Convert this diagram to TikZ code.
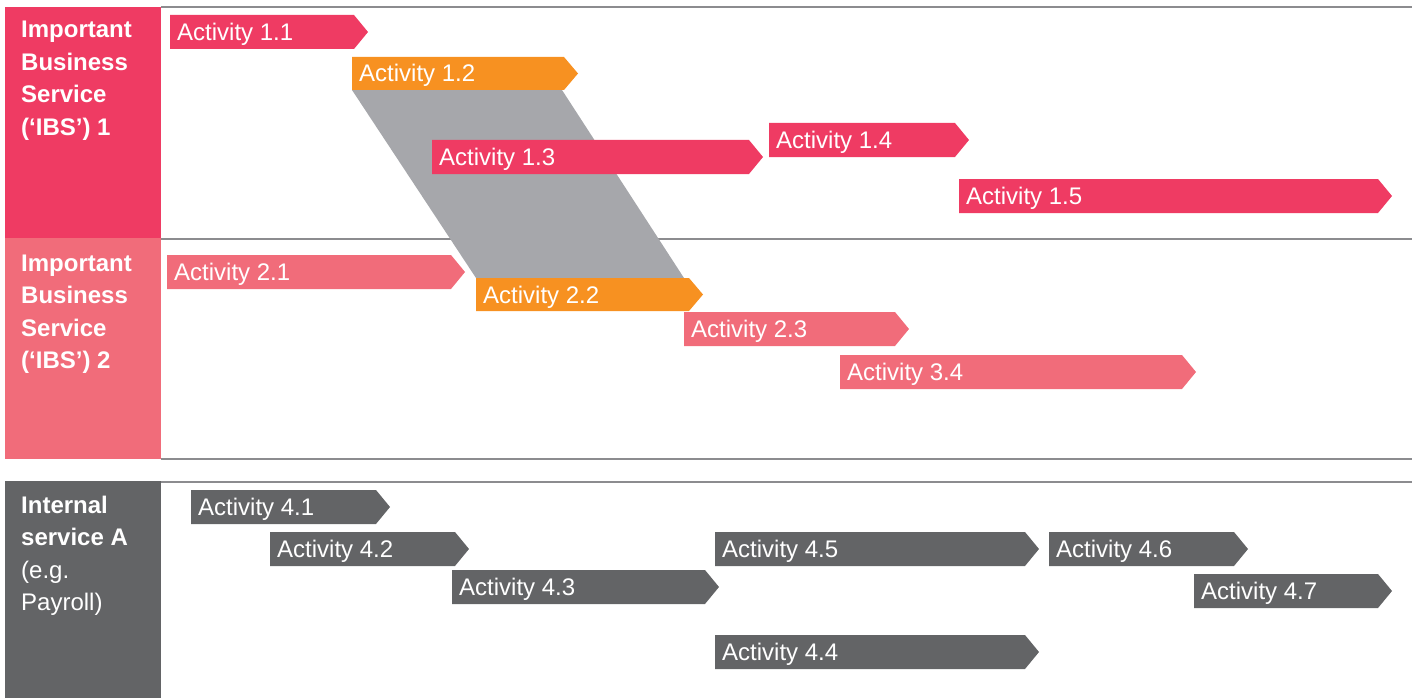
\documentclass[tikz,border=0pt]{standalone}
\usepackage{fontspec}
\setmainfont{Liberation Sans}
\definecolor{pinkA}{HTML}{EF3B63}
\definecolor{pinkB}{HTML}{F16C7A}
\definecolor{orangeA}{HTML}{F79121}
\definecolor{greyA}{HTML}{636466}
\definecolor{greyB}{HTML}{A6A7AB}
\definecolor{lineA}{HTML}{8C8C8F}
\tikzset{
  acttext/.style={anchor=base west, inner sep=0pt, text=white, font=\fontsize{24}{28}\selectfont},
  bandtext/.style={anchor=base west, inner sep=0pt, text=white, align=left, font=\fontsize{24}{32.5}\selectfont},
  rule/.style={draw=lineA, line width=2pt},
}
\newcommand{\actbar}[7]{%
  \fill[#6] (#2,#4) -- (#3-14,#4) -- (#3,{(#4+#5)/2}) -- (#3-14,#5) -- (#2,#5) -- cycle;
  \node[acttext] (#1) at (#2+7,{(#4+#5)/2+8.5}) {#7};
}
\begin{document}
\begin{tikzpicture}[x=1pt,y=-1pt]
\useasboundingbox (0,0) rectangle (1416,698);
% bands
\fill[pinkA] (5,7) rectangle (161,238);
\fill[pinkB] (5,238) rectangle (161,459);
\fill[greyA] (5,481) rectangle (161,698);
% rules
\draw[rule] (161,7) -- (1412,7);
\draw[rule] (161,238.5) -- (1412,238.5);
\draw[rule] (161,458.5) -- (1412,458.5);
\draw[rule] (161,481.5) -- (1412,481.5);
% band labels (base anchor = baseline of the last line)
\node[bandtext] (ibs1) at (21,135.5) {\textbf{Important}\\\textbf{Business}\\\textbf{Service}\\\textbf{(‘IBS’) 1}};
\node[bandtext] (ibs2) at (21,368.5) {\textbf{Important}\\\textbf{Business}\\\textbf{Service}\\\textbf{(‘IBS’) 2}};
\node[bandtext] (intA) at (21,610.5) {\textbf{Internal}\\\textbf{service A}\\(e.g.\\Payroll)};
% grey link
\fill[greyB] (352,90) -- (562,90) -- (684,278) -- (476,278) -- cycle;
% activities
\actbar{a11}{170}{368}{15}{49}{pinkA}{Activity 1.1}
\actbar{a12}{352}{578}{57}{90}{orangeA}{Activity 1.2}
\actbar{a13}{432}{763}{140}{174}{pinkA}{Activity 1.3}
\actbar{a14}{769}{969}{123}{157}{pinkA}{Activity 1.4}
\actbar{a15}{959}{1392}{179}{213}{pinkA}{Activity 1.5}
\actbar{a21}{167}{465}{255}{289}{pinkB}{Activity 2.1}
\actbar{a22}{476}{703}{278}{311}{orangeA}{Activity 2.2}
\actbar{a23}{684}{909}{312}{346}{pinkB}{Activity 2.3}
\actbar{a34}{840}{1196}{355}{389}{pinkB}{Activity 3.4}
\actbar{a41}{191}{390}{490}{524}{greyA}{Activity 4.1}
\actbar{a42}{270}{469}{532}{566}{greyA}{Activity 4.2}
\actbar{a43}{452}{719}{570}{604}{greyA}{Activity 4.3}
\actbar{a45}{715}{1039}{532}{566}{greyA}{Activity 4.5}
\actbar{a46}{1049}{1248}{532}{566}{greyA}{Activity 4.6}
\actbar{a47}{1194}{1392}{574}{608}{greyA}{Activity 4.7}
\actbar{a44}{715}{1039}{635}{669}{greyA}{Activity 4.4}
\end{tikzpicture}
\end{document}
